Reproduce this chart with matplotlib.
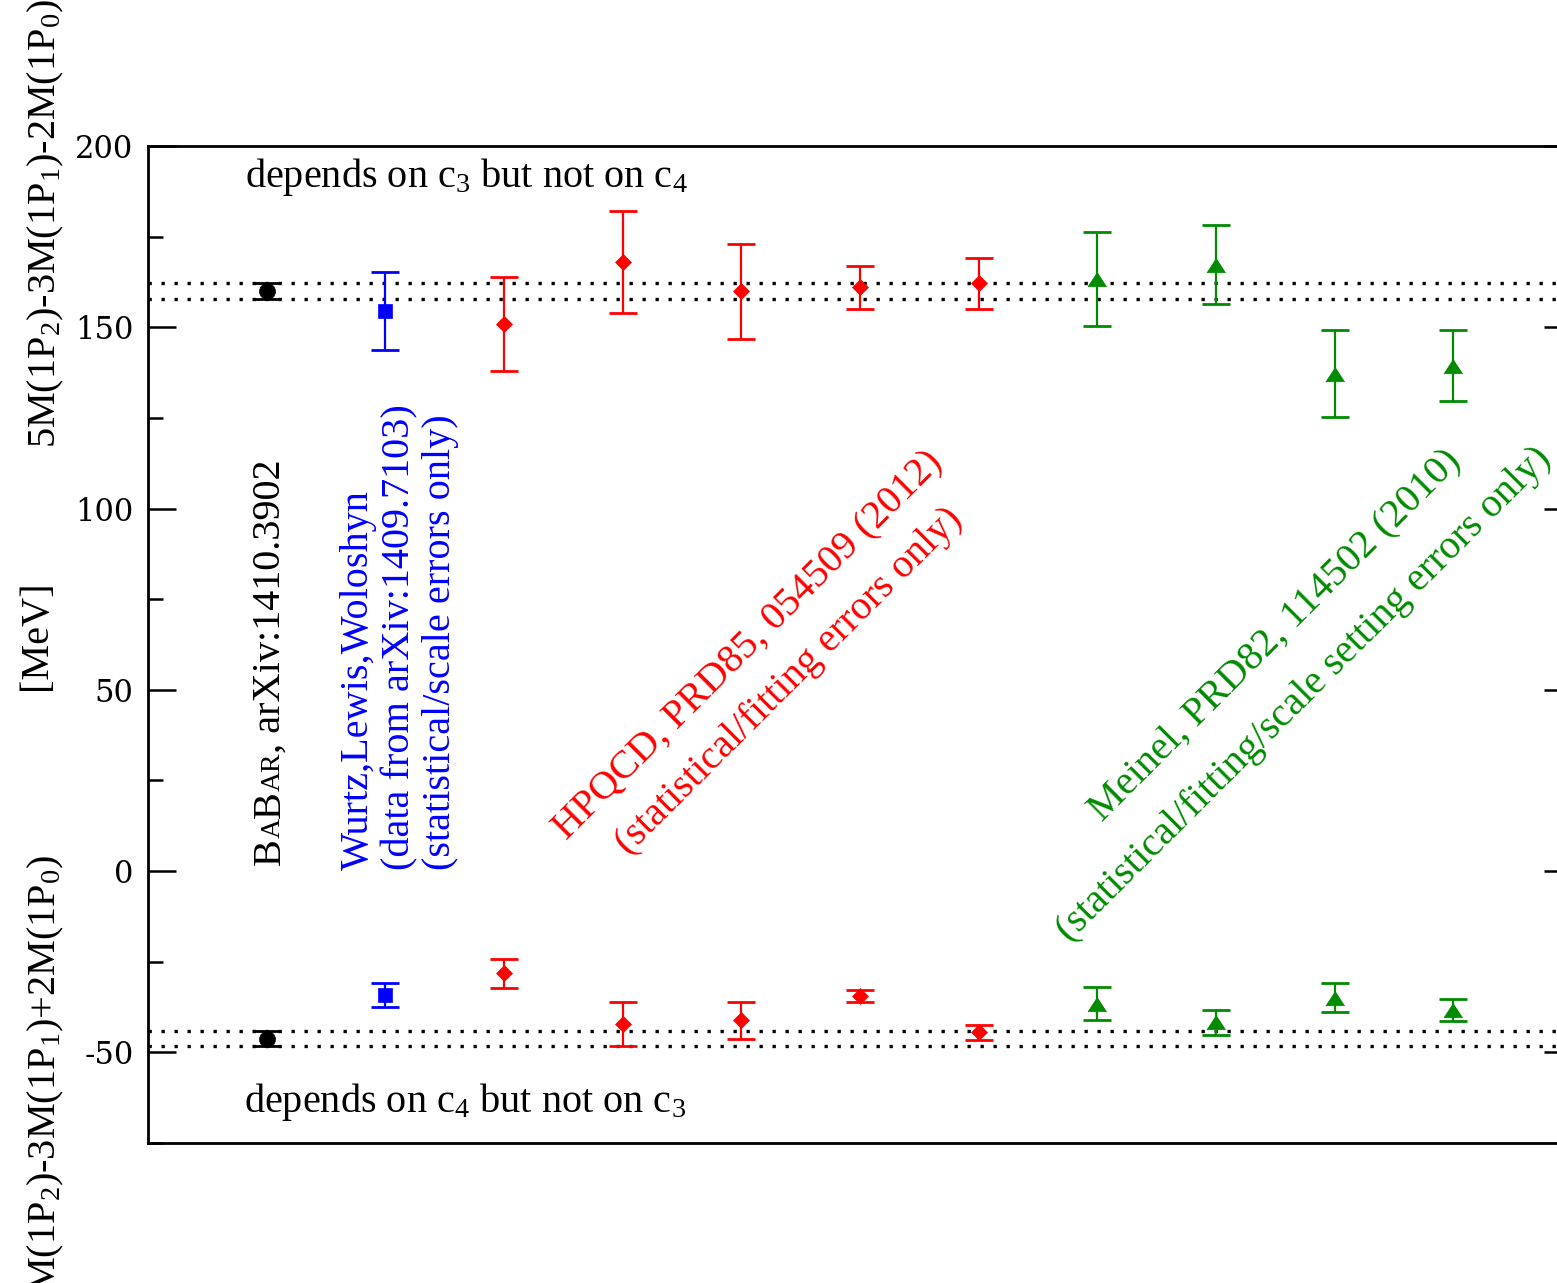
import matplotlib
matplotlib.use("Agg")
import matplotlib.pyplot as plt
from matplotlib.transforms import offset_copy

plt.rcParams['font.family'] = 'Liberation Serif'
plt.rcParams['mathtext.fontset'] = 'custom'
plt.rcParams['mathtext.rm'] = 'Liberation Serif'
plt.rcParams['mathtext.it'] = 'Liberation Serif:italic'
plt.rcParams['axes.unicode_minus'] = False

# upper block: 5M(1P2)-3M(1P1)-2M(1P0), lower block: M(1P2)-3M(1P1)+2M(1P0)  [MeV]
babar_x = [1]
babar_up = [160.0]
babar_up_err = [2.1]
babar_lo = [-46.2]
babar_lo_err = [2.0]

wurtz_x = [2]
wurtz_up = [154.4]
wurtz_up_err = [10.8]
wurtz_lo = [-34.2]
wurtz_lo_err = [3.2]

hpqcd_x = [3, 4, 5, 6, 7]
hpqcd_up = [151.0, 168.0, 159.9, 161.0, 162.1]
hpqcd_up_err = [13.0, 14.0, 13.0, 6.0, 7.0]
hpqcd_lo = [-28.2, -42.2, -41.2, -34.4, -44.5]
hpqcd_lo_err = [4.0, 6.0, 5.0, 1.6, 2.0]

meinel_x = [8, 9, 10, 11]
meinel_up = [163.3, 167.3, 137.2, 139.4]
meinel_up_err = [13.0, 11.0, 12.0, 9.8]
meinel_lo = [-36.6, -41.7, -34.9, -38.4]
meinel_lo_err = [4.5, 3.4, 3.9, 3.0]

ytick_vals = [-50, 0, 50, 100, 150, 200]
ytick_labels = ['-50', '0', '50', '100', '150', '200']

green = '#008b00'
W, H = 1557, 1283
FS = 29

fig = plt.figure(figsize=(W / 100, H / 100), dpi=100)
ax = fig.add_axes([148 / W, 1 - 1143 / H, (1572 - 148) / W, (1143 - 146) / H])

# BaBar bands (dotted)
for v, e in [(babar_up[0], babar_up_err[0]), (babar_lo[0], babar_lo_err[0])]:
    for yy in (v - e, v + e):
        ax.axhline(yy, color='k', ls=(0, (1, 2.9)), lw=2.4, zorder=1)

tri = [(0, 1), (-1.3, -1), (1.3, -1)]
series = [
    (babar_x, babar_up, babar_up_err, babar_lo, babar_lo_err, 'o', 11.5, 'k'),
    (wurtz_x, wurtz_up, wurtz_up_err, wurtz_lo, wurtz_lo_err, 's', 10, '#0000ff'),
    (hpqcd_x, hpqcd_up, hpqcd_up_err, hpqcd_lo, hpqcd_lo_err, 'D', 8.2, '#ff0000'),
    (meinel_x, meinel_up, meinel_up_err, meinel_lo, meinel_lo_err, tri, 13.5, green),
]
for xs, up, uerr, lo, lerr, mk, ms, col in series:
    for yv, ye in ((up, uerr), (lo, lerr)):
        ax.errorbar(xs, yv, yerr=ye, fmt='none', ecolor=col, elinewidth=1.6,
                    capsize=10, capthick=2.0, zorder=2)
        ax.plot(xs, yv, ls='none', marker=mk, ms=ms, color=col, mec=col, mew=0.5, zorder=3)

ax.set_xlim(0, 12)
ax.set_ylim(-75, 200)
ax.set_xticks([])
ax.set_yticks(ytick_vals)
ax.set_yticklabels(ytick_labels, fontfamily='DejaVu Serif', fontsize=22)
ax.set_yticks(range(-75, 201, 25), minor=True)
ax.tick_params(axis='y', which='major', direction='in', length=20, width=1.8,
               left=True, right=True, pad=10.5)
ax.tick_params(axis='y', which='minor', direction='in', length=10.5, width=1.8,
               left=True, right=True)
for sp in ax.spines.values():
    sp.set_linewidth(2)


def px(x, y):
    # image pixel -> data coords
    return (x - 148) / 118.67, (871.2 - y) / 3.62


ax.text(*px(245, 188), 'depends on c$_3$ but not on c$_4$', fontsize=FS)
ax.text(*px(244, 1112), 'depends on c$_4$ but not on c$_3$', fontsize=FS)

# BaBar label with small caps, drawn piece by piece
renderer = fig.canvas.get_renderer()
bx, by = px(280, 865)
off = 0.0
for s, size in [('B', FS), ('A', 20), ('B', FS), ('AR', 20), (', arXiv:1410.3902', FS)]:
    tr = offset_copy(ax.transData, fig=fig, x=0, y=off, units='dots')
    t = ax.text(bx, by, s, fontsize=size, color='k', rotation=90, rotation_mode='anchor',
                ha='left', va='baseline', transform=tr)
    off += t.get_window_extent(renderer).height

# multi-line text is anchored on the baseline of its last line
ax.text(*px(446, 870), 'Wurtz,Lewis,Woloshyn\n(data from arXiv:1409.7103)\n(statistical/scale errors only)',
        fontsize=FS, color='#0000ff', rotation=90, rotation_mode='anchor',
        ha='left', va='baseline', multialignment='left', linespacing=1.15)

# slanted labels, one line at a time
slanted = [
    ('HPQCD, PRD85, 054509 (2012)', (755, 653), '#ff0000'),
    ('(statistical/fitting errors only)', (796, 689), '#ff0000'),
    ('Meinel, PRD82, 114502 (2010)', (1282, 642), green),
    ('(statistical/fitting/scale setting errors only)', (1311, 702), green),
]
for s, (lx, ly), col in slanted:
    ax.text(*px(lx, ly), s, fontsize=FS, color=col, rotation=45, rotation_mode='anchor',
            ha='center', va='baseline')

# axis labels
fig.text(55 / W, 1 - 224 / H, '5M(1P$_2$)-3M(1P$_1$)-2M(1P$_0$)', fontsize=FS,
         rotation=90, rotation_mode='anchor', ha='center', va='baseline')
fig.text(36 / W, 1 - 635 / H, '[MeV]', fontsize=FS, rotation=90,
         rotation_mode='anchor', ha='center', va='center')
fig.text(55 / W, 1 - 855 / H, 'M(1P$_2$)-3M(1P$_1$)+2M(1P$_0$)', fontsize=FS,
         rotation=90, rotation_mode='anchor', ha='right', va='baseline')

fig.savefig('out.png', dpi=100)
